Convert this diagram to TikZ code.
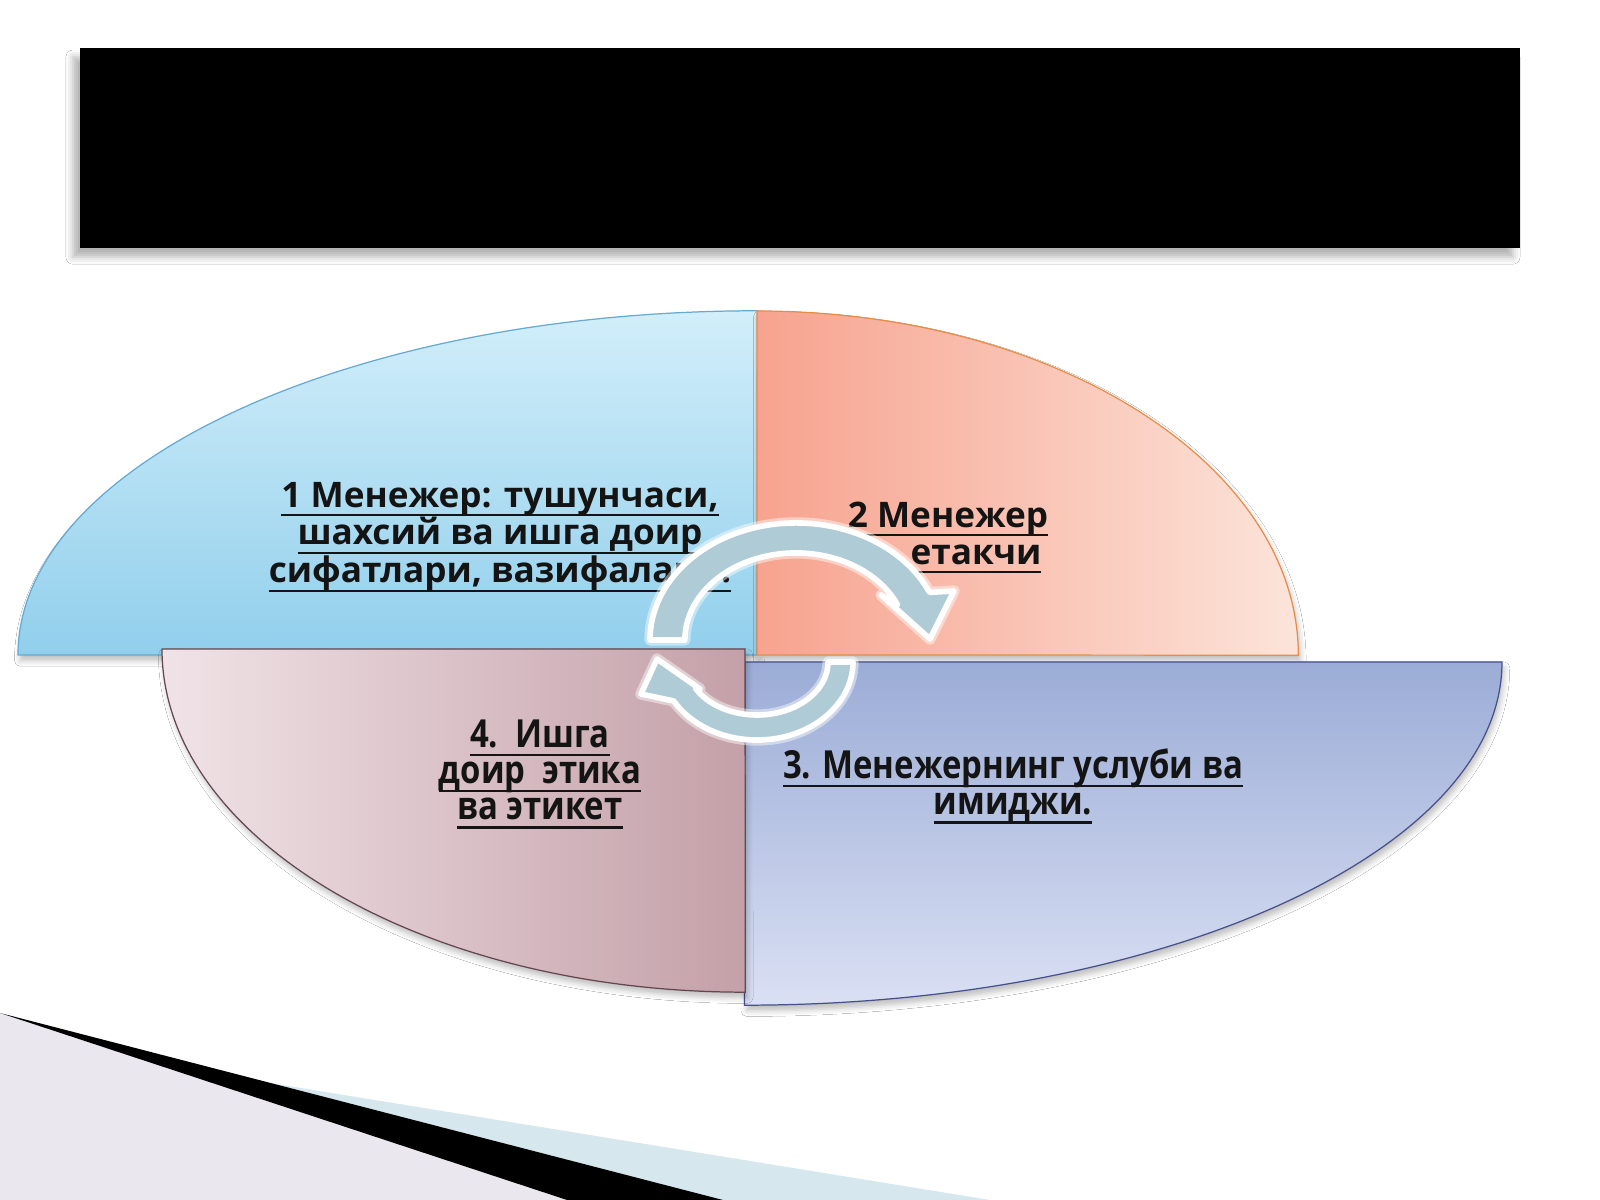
\documentclass[tikz,border=0pt]{standalone}
\usepackage{fontspec}
\setmainfont{Open Sans}
\newfontfamily\condsans{Open Sans}[FakeStretch=0.85]
\newcommand{\undl}[1]{\leavevmode\setbox0\hbox{#1}\rlap{\vrule width\wd0 height -2.0pt depth 2.6pt}\box0}
\usetikzlibrary{shadows.blur}
\definecolor{blueTop}{RGB}{210,238,250}
\definecolor{blueBot}{RGB}{145,207,236}
\definecolor{blueLine}{RGB}{100,170,210}
\definecolor{orgLeft}{RGB}{247,163,143}
\definecolor{orgRight}{RGB}{252,228,218}
\definecolor{orgLine}{RGB}{232,140,70}
\definecolor{pinkLeft}{RGB}{240,227,231}
\definecolor{pinkRight}{RGB}{196,160,168}
\definecolor{pinkLine}{RGB}{100,70,80}
\definecolor{vioTop}{RGB}{155,172,214}
\definecolor{vioBot}{RGB}{218,224,244}
\definecolor{vioLine}{RGB}{70,80,140}
\definecolor{arrowFill}{RGB}{174,203,214}
\definecolor{greyArea}{RGB}{234,232,238}
\definecolor{bandBlue}{RGB}{214,231,238}
\definecolor{txt}{RGB}{20,20,20}
\begin{document}
\begin{tikzpicture}[x=0.01cm,y=0.01cm,
  quarter/.style={line width=0.35pt, blur shadow={shadow xshift=0.6pt, shadow yshift=-1.6pt, shadow blur radius=1.6pt, shadow opacity=25}},
  lblA/.style={align=center, inner sep=0pt, text=txt, font=\bfseries\fontsize{10}{10.7}\selectfont},
  lblB/.style={align=center, inner sep=0pt, text=txt, font=\condsans\bfseries\fontsize{11}{10.3}\selectfont},
  cyc/.style={fill=arrowFill, draw=white, line width=1.6pt, line join=round,
    preaction={draw=white, opacity=0.45, line width=3.2pt, line join=round}}]
\useasboundingbox (0,0) rectangle (1600,1200);
\fill[white] (0,0) rectangle (1600,1200);

% bottom-left decoration
\fill[greyArea] (0,187) -- (567,0) -- (0,0) -- cycle;
\fill[bandBlue] (270,117) -- (990,0) -- (723,0) -- cycle;
\fill[black] (0,187) -- (723,0) -- (567,0) -- cycle;

% title bar
\fill[black, blur shadow={shadow xshift=-2pt, shadow yshift=-2.6pt, shadow blur radius=2pt, shadow opacity=30}] (80,952) rectangle (1520,1152);

% quarters
\path[quarter, draw=blueLine, top color=blueTop, bottom color=blueBot]
  (757,545) -- (18,545) arc[start angle=180, end angle=90, x radius=7.39cm, y radius=3.44cm] -- cycle;
\path[quarter, draw=orgLine, left color=orgLeft, right color=orgRight]
  (757,545) -- (757,889) arc[start angle=90, end angle=0, x radius=5.41cm, y radius=3.44cm] -- cycle;
\path[quarter, draw=vioLine, top color=vioTop, bottom color=vioBot]
  (745,538) -- (1502,538) arc[start angle=0, end angle=-90, x radius=7.57cm, y radius=3.43cm] -- cycle;
\path[quarter, draw=pinkLine, left color=pinkLeft, right color=pinkRight]
  (745,551) -- (162,551) arc[start angle=180, end angle=270, x radius=5.83cm, y radius=3.43cm] -- cycle;

% texts
\node[lblA] (t1) at (500,663) {\undl{1 Менежер: тушунчаси,}\\\undl{шахсий ва ишга доир}\\\undl{сифатлари, вазифалари.}};
\node[lblA] (t2a) at (948,681) {\undl{2 Менежер}};
\node[lblA] (t2b) at (976,641) {\undl{етакчи}};
\node[lblB] (t3) at (1013,414) {\undl{3. Менежернинг услуби ва}\\\undl{имиджи.}};
\node[lblB] (t4) at (540,426) {\undl{4.\ \ Ишга}\\\undl{доир\ \ этика}\\\undl{ва этикет}};

% circular arrows
\draw[cyc] (650,560) arc[start angle=180, end angle=24, x radius=1.46cm, y radius=1.17cm]
  -- (954,609) -- (930,561) -- (881,605) -- (897.4,595.4)
  arc[start angle=24, end angle=180, x radius=1.11cm, y radius=0.87cm] -- cycle;
\draw[cyc] (853,538) arc[start angle=0, end angle=-150, x radius=0.96cm, y radius=0.78cm]
  -- (641,506) -- (657,541) -- (700,511) -- (695.5,511.5)
  arc[start angle=-150, end angle=0, x radius=0.71cm, y radius=0.53cm] -- cycle;
\end{tikzpicture}
\end{document}
